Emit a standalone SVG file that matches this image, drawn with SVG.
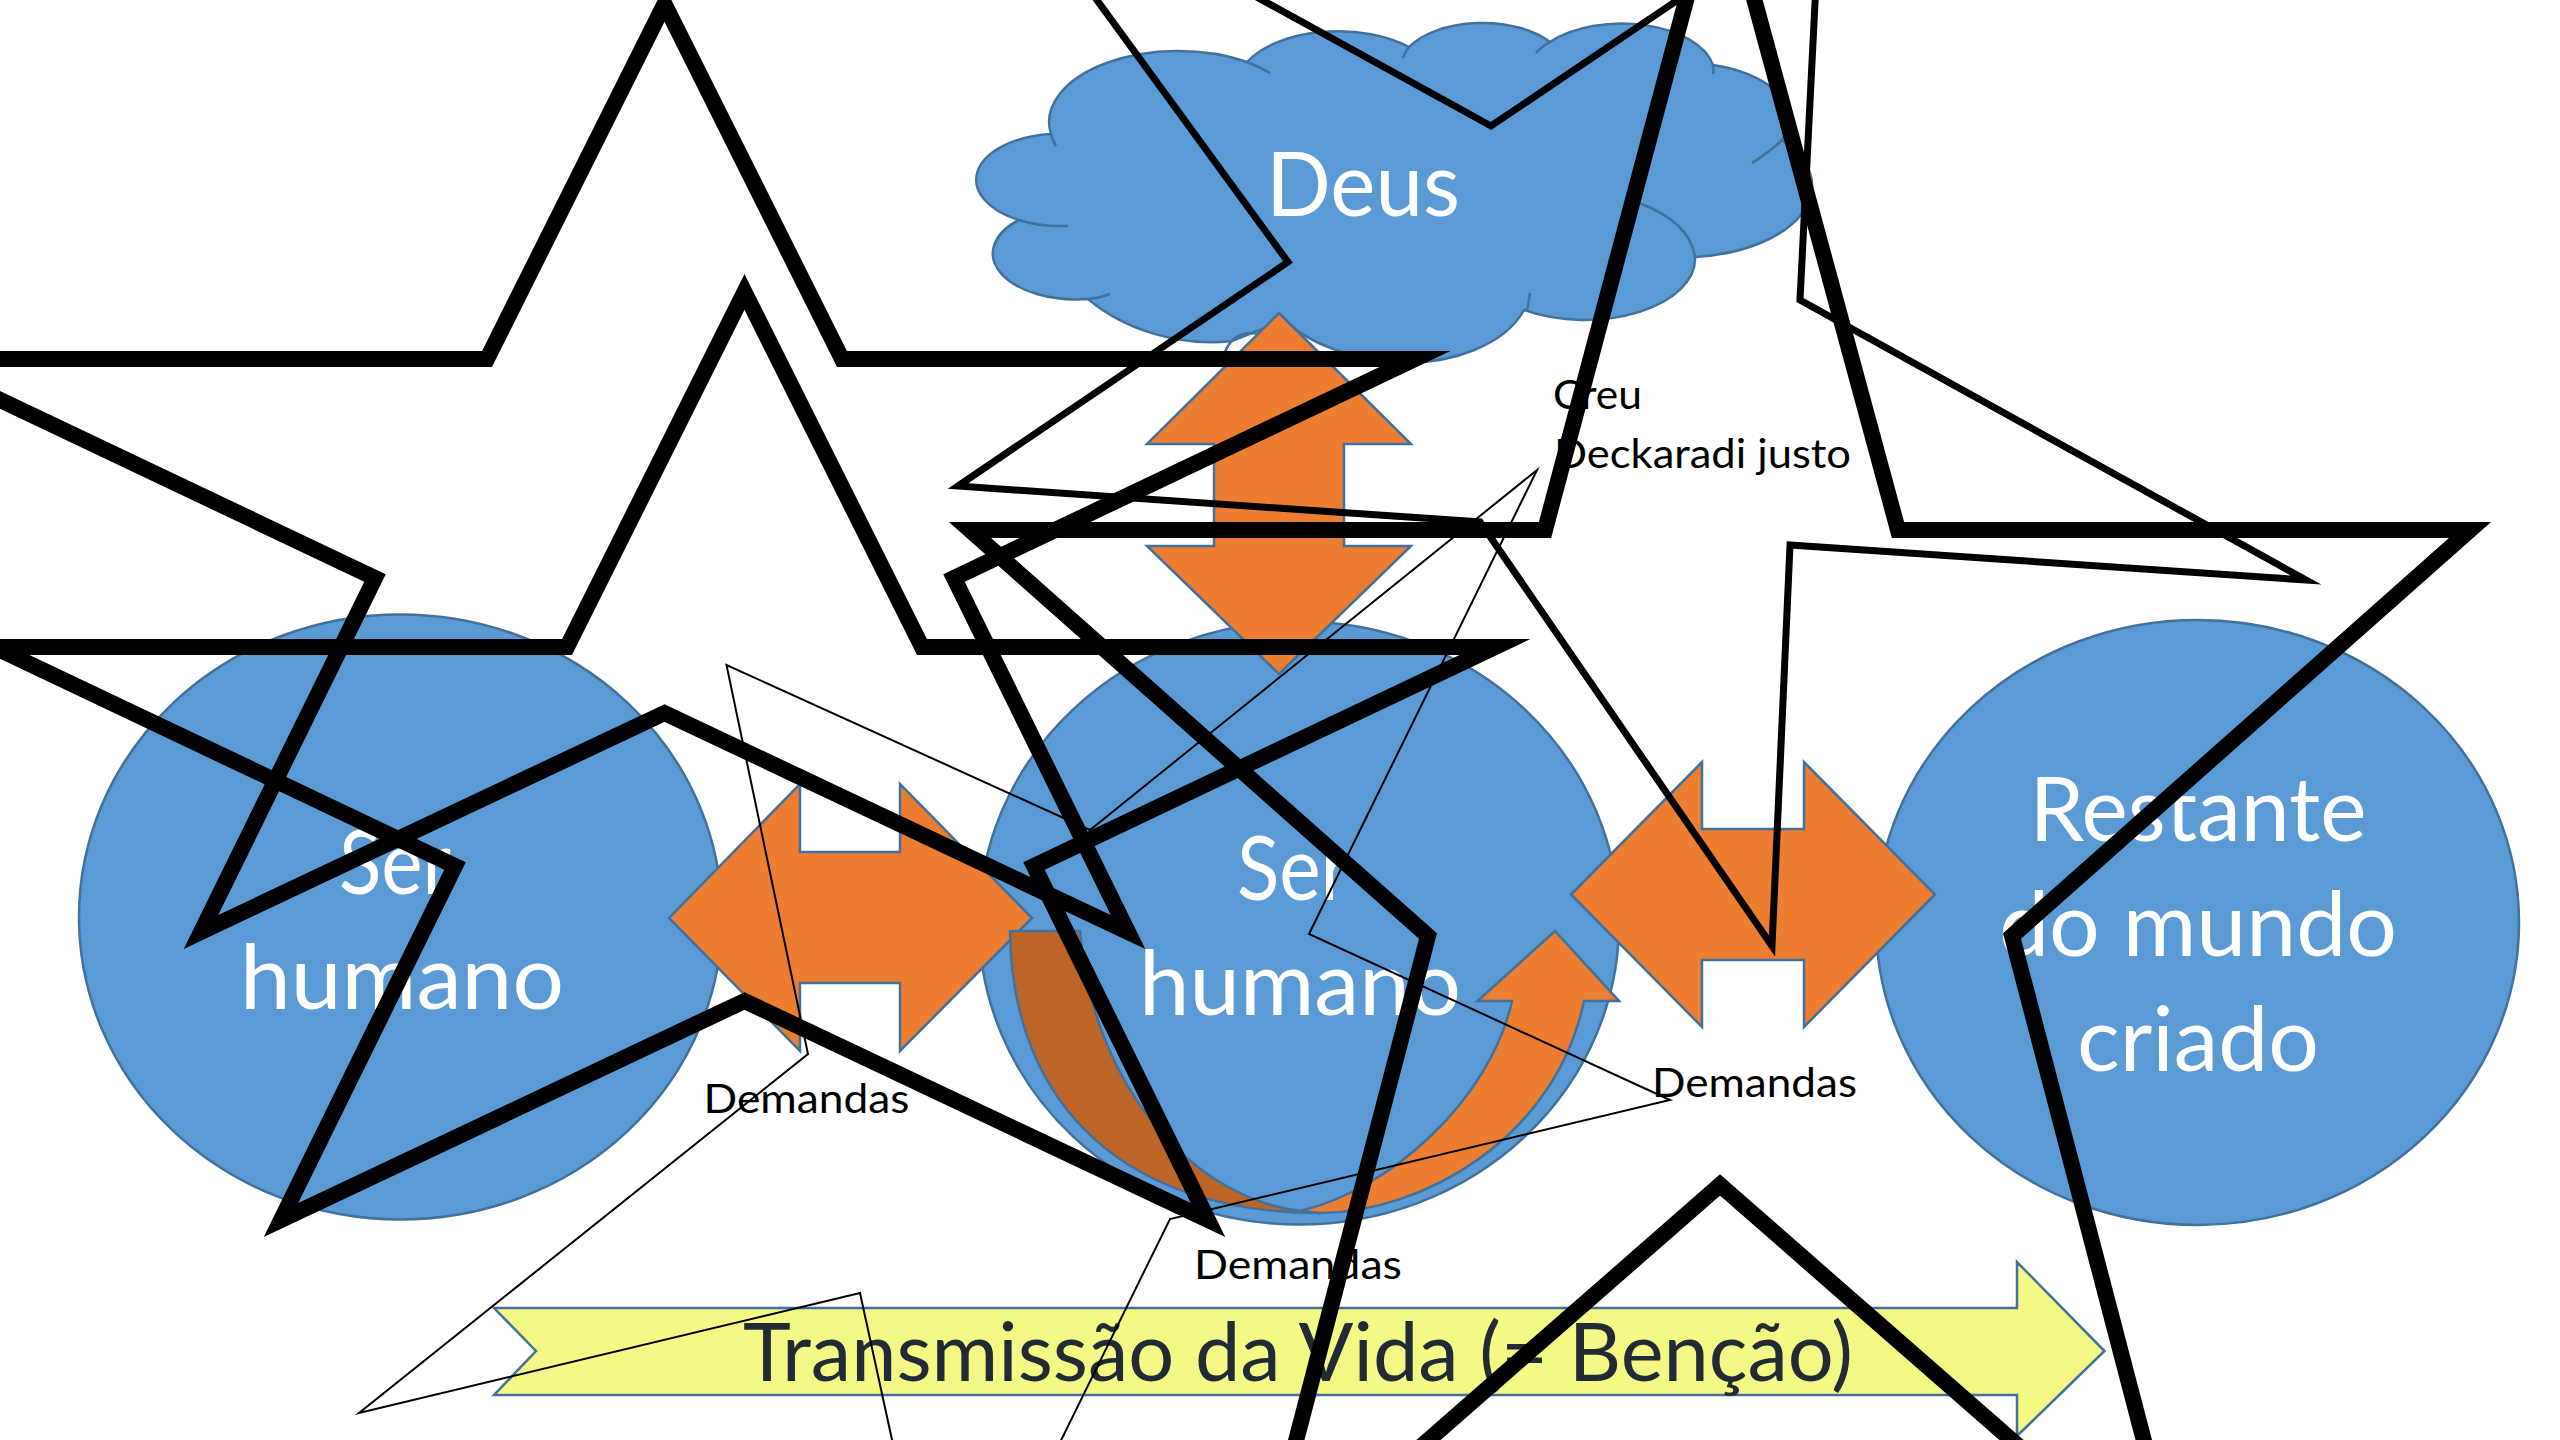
<svg xmlns="http://www.w3.org/2000/svg" width="2560" height="1440" viewBox="0 0 2560 1440">
<style>
.blue{fill:#5B9BD5;stroke:#41719C;stroke-width:2.5}
.cl{fill:none;stroke:#41719C;stroke-width:2.5}
.org{fill:#ED7D31;stroke:#41719C;stroke-width:2.5}
.dark{fill:#BD6526;stroke:#41719C;stroke-width:2.5}
.yel{fill:#F4F884;stroke:#41719C;stroke-width:2.5}
text{font-family:Lato,Carlito,"Open Sans",sans-serif}
.big{font-size:90px;fill:#fff;text-anchor:middle}
.small{font-size:40px;fill:#000}
.band{font-size:82px;fill:#222A35}
.s{fill:none;stroke:#000;stroke-linejoin:miter;stroke-miterlimit:20}
.s16{stroke-width:16}.s7{stroke-width:7}.s2{stroke-width:2}
</style>
<g id="ser-humano-1"><ellipse class="blue" cx="400.5" cy="917" rx="321.5" ry="302.5"/><text class="big" x="395" y="894" textLength="112" lengthAdjust="spacingAndGlyphs">Ser</text><text class="big" x="402" y="1009" textLength="324" lengthAdjust="spacingAndGlyphs">humano</text></g>
<g id="ser-humano-2"><ellipse class="blue" cx="1299" cy="923" rx="320" ry="301.5"/><text class="big" x="1293" y="900" textLength="112" lengthAdjust="spacingAndGlyphs">Ser</text><text class="big" x="1300" y="1015" textLength="322" lengthAdjust="spacingAndGlyphs">humano</text></g>
<g id="restante"><ellipse class="blue" cx="2197.5" cy="922.5" rx="321.5" ry="302.5"/><text class="big" x="2198" y="841" textLength="337" lengthAdjust="spacingAndGlyphs">Restante</text><text class="big" x="2198" y="956" textLength="398" lengthAdjust="spacingAndGlyphs">do mundo</text><text class="big" x="2198" y="1071" textLength="242" lengthAdjust="spacingAndGlyphs">criado</text></g>
<g id="deus">
<path class="blue" d="M1051,134A129 71 0 0 1 1247,62A102 56 0 0 1 1409,47A83.5 46 0 0 1 1550,42A93 51 0 0 1 1713,65A102 56 0 0 1 1782,140A129.5 71.5 0 0 1 1695,257A110.6 61 0 0 1 1524,310C1505,345 1450,365 1400,362C1355,360 1310,345 1285,320L1232,341C1180,347 1125,330 1088,299A83.4 46 0 0 1 1019,220A83 46 0 0 1 1051,134Z"/>
<path class="cl" d="M1051,134Q1052,140 1056,146M1019,220Q1040,227 1068,226M1088,299Q1100,298 1110,294M1527,310Q1529,302 1530,293M1639,203Q1690,222 1695,257M1782,140Q1772,150 1752,163M1713,65Q1714,70 1713,74M1536,53Q1541,47 1550,42M1403,58Q1405,52 1409,47M1247,62Q1260,67 1270,73M1225,352Q1232,334 1250,333Q1262,333 1268,340"/>
<text class="big" x="1363" y="216" textLength="194" lengthAdjust="spacingAndGlyphs">Deus</text>
</g>
<g id="connectors">
<path class="org" d="M1279,313L1411,444H1344V546H1411L1279,674L1147,546H1214V444H1147Z"/>
<path class="org" d="M669,918L800,784V852H900V784L1032,918L900,1051V983H800V1051Z"/>
<path class="org" d="M1571,894.5L1702,762V829H1804V762L1935,894.5L1804,1027V960H1702V1027Z"/>
<path class="dark" d="M1010,931H1080C1090,1070 1180,1195 1300,1211L1320,1213C1130,1213 1012,1110 1010,931Z"/>
<path class="org" d="M1300,1211C1390,1190 1490,1100 1512,1001H1477.5L1555,931L1619,1001H1584C1555,1140 1420,1213 1320,1213Z"/>
<path class="yel" d="M494,1308H2017V1262L2104.5,1351L2017,1436V1395H494L536,1351Z"/>
</g>
<g id="transmissao"><text class="band" x="743" y="1381" textLength="1110" lengthAdjust="spacingAndGlyphs">Transmissão da  Vida (= Benção)</text></g>
<g id="labels">
<text class="small" x="703.5" y="1113" textLength="206" lengthAdjust="spacingAndGlyphs">Demandas</text>
<text class="small" x="1652" y="1097" textLength="205" lengthAdjust="spacingAndGlyphs">Demandas</text>
<text class="small" x="1194" y="1279" textLength="208" lengthAdjust="spacingAndGlyphs">Demandas</text>
<text class="small" x="1553" y="409" textLength="89" lengthAdjust="spacingAndGlyphs">Creu</text>
<text class="small" x="1554" y="467.5" textLength="297" lengthAdjust="spacingAndGlyphs">Deckaradi justo</text>
</g>
<g id="stars">
<path class="s s2" d="M1537,470L1090,830L726.5,665L808,1054L359,1413L860,1293L944,1678L1170,1219L1670,1100L1309,934Z"/>
<path class="s s7" d="M986,-152L1288,262L958,486L1480,522L1772,946L1790,545L2306,580L1800,300L1820,-96L1491,126Z"/>
<path class="s s16" d="M664.5,4L842,359H1415L954,578L1128,932L664.5,713L201,932L375,578L-86,359H487Z"/>
<path class="s s16" d="M744.5,292L922,647H1495L1034,866L1208,1220L744.5,1001L281,1220L455,866L-6,647H567Z"/>
<path class="s s16" d="M1720,-127L1898,530H2470L2012,936L2183,1590L1720,1185L1257,1590L1428,936L970,530H1545Z"/>
</g>
</svg>
